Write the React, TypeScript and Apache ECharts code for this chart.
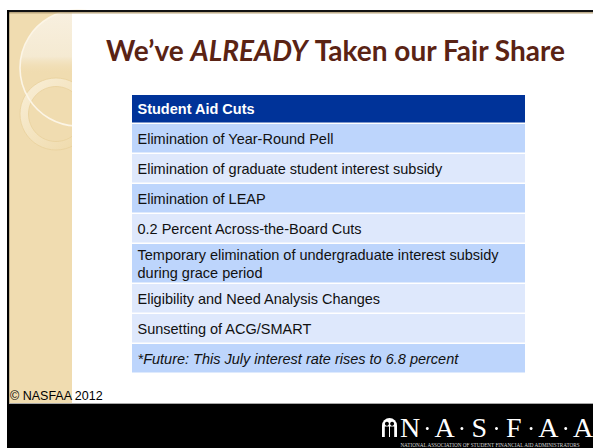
import React, { useEffect, useRef } from "react";
import * as echarts from "echarts";

// ---- content (data) ----
const TITLE_PARTS = ["We\u2019ve ", "ALREADY", " Taken our Fair Share"];
const TABLE_HEADER = "Student Aid Cuts";
const TABLE_ROWS = [
  "Elimination of Year-Round Pell",
  "Elimination of graduate student interest subsidy",
  "Elimination of LEAP",
  "0.2 Percent Across-the-Board Cuts",
  "Temporary elimination of undergraduate interest subsidy\nduring grace period",
  "Eligibility and Need Analysis Changes",
  "Sunsetting of ACG/SMART",
  "*Future: This July interest rate rises to 6.8 percent",
];
const ITALIC_ROWS = [7];
const COPYRIGHT = "\u00A9 NASFAA 2012";
const LOGO_LETTERS = ["N", "A", "S", "F", "A", "A"];
const LOGO_SUBTEXT = "NATIONAL ASSOCIATION OF STUDENT FINANCIAL AID ADMINISTRATORS";

// ---- style ----
const DARK_ROW = "#BDD5FC";
const LIGHT_ROW = "#DEE8FC";
const ROW_FILLS = [DARK_ROW, LIGHT_ROW, DARK_ROW, LIGHT_ROW, DARK_ROW, LIGHT_ROW, LIGHT_ROW, DARK_ROW];
const HEADER_FILL = "#003399";
const TITLE_COLOR = "#5A2314";
const TAN = "#F0DCB0";
const SANS = "'Liberation Sans', Arial, sans-serif";
const TITLE_FONT = "Lato, 'Open Sans', sans-serif";

export default function App() {
  const ref = useRef<HTMLDivElement>(null);

  useEffect(() => {
    if (!ref.current) return;
    const chart = echarts.init(ref.current, undefined, { renderer: "svg" });

    const elements: any[] = [];

    // Left decorative panel
    elements.push({ type: "rect", shape: { x: 9, y: 12, width: 63, height: 392 }, style: { fill: TAN } });
    elements.push({
      type: "circle",
      shape: { cx: 78, cy: 68, r: 58 },
      style: {
        fill: {
          type: "linear", x: 0, y: 0, x2: 0, y2: 1,
          colorStops: [
            { offset: 0, color: "#F8F0E0" },
            { offset: 0.4, color: "#F5EAD2" },
            { offset: 0.55, color: "rgba(240,220,176,0)" },
            { offset: 1, color: "rgba(240,220,176,0)" },
          ],
        },
      },
    });
    elements.push({
      type: "ring",
      shape: { cx: 56, cy: 114, r: 36, r0: 27.5 },
      style: {
        fill: {
          type: "linear", x: 0, y: 0, x2: 1, y2: 1,
          colorStops: [
            { offset: 0, color: "#F9EFD8" },
            { offset: 1, color: "#EED8A6" },
          ],
        },
        stroke: "#E8D19C",
        lineWidth: 0.8,
      },
    });
    elements.push({
      type: "circle",
      shape: { cx: 78, cy: 68, r: 58 },
      style: { fill: "none", stroke: "#FCF5E6", lineWidth: 1.6 },
    });
    // white cover to clip decorations at the panel's right edge
    elements.push({ type: "rect", shape: { x: 72, y: 12, width: 521, height: 391 }, style: { fill: "#FFFFFF" } });

    // Frame borders
    elements.push({ type: "rect", shape: { x: 7, y: 10, width: 586, height: 2.2 }, style: { fill: "#111111" } });
    elements.push({ type: "rect", shape: { x: 9, y: 12.2, width: 584, height: 1.2 }, style: { fill: "#BBA57A" } });
    elements.push({ type: "rect", shape: { x: 7, y: 10, width: 2.2, height: 438 }, style: { fill: "#000000" } });
    elements.push({ type: "rect", shape: { x: 9, y: 403, width: 584, height: 1 }, style: { fill: "#A8A8A8" } });
    elements.push({ type: "rect", shape: { x: 7, y: 404, width: 586, height: 44 }, style: { fill: "#000000" } });

    // Title
    elements.push({
      type: "text",
      x: 336,
      y: 64,
      style: {
        text: `{n|${TITLE_PARTS[0]}}{i|${TITLE_PARTS[1]}}{n|${TITLE_PARTS[2]}}`,
        align: "center",
        verticalAlign: "bottom",
        rich: {
          n: { fontFamily: TITLE_FONT, fontWeight: "bold", fontSize: 28, fill: TITLE_COLOR },
          i: { fontFamily: TITLE_FONT, fontWeight: "bold", fontStyle: "italic", fontSize: 28, fill: TITLE_COLOR },
        },
      },
    });

    // Table
    const tableX = 132;
    const tableW = 393;
    elements.push({ type: "rect", shape: { x: tableX, y: 95, width: tableW, height: 27.5 }, style: { fill: HEADER_FILL } });
    elements.push({
      type: "text",
      x: tableX + 5.5,
      y: 109,
      style: { text: TABLE_HEADER, fill: "#FFFFFF", font: `bold 14.5px ${SANS}`, verticalAlign: "middle" },
    });
    let y = 124;
    TABLE_ROWS.forEach((label, i) => {
      const lines = label.split("\n").length;
      const pitch = lines > 1 ? 40 : 30;
      const h = pitch - 1.5;
      elements.push({ type: "rect", shape: { x: tableX, y, width: tableW, height: h }, style: { fill: ROW_FILLS[i] } });
      const italic = ITALIC_ROWS.includes(i);
      elements.push({
        type: "text",
        x: tableX + 5.5,
        y: y + h / 2 + 0.5,
        style: {
          text: label,
          fill: "#111111",
          font: `${italic ? "italic " : ""}14.5px ${SANS}`,
          verticalAlign: "middle",
          lineHeight: 18,
        },
      });
      y += pitch;
    });

    // Copyright
    elements.push({
      type: "text",
      x: 10,
      y: 396,
      style: { text: COPYRIGHT, fill: "#000000", font: `12.5px ${SANS}`, verticalAlign: "middle" },
    });

    // Logo icon (arch with two figures)
    elements.push({ type: "rect", shape: { x: 382, y: 418, width: 15, height: 19, r: [7.5, 7.5, 0, 0] }, style: { fill: "#FFFFFF" } });
    elements.push({ type: "circle", shape: { cx: 386.9, cy: 423.8, r: 2 }, style: { fill: "#000000" } });
    elements.push({ type: "circle", shape: { cx: 392.1, cy: 423.8, r: 2 }, style: { fill: "#000000" } });
    elements.push({ type: "rect", shape: { x: 384.8, y: 426.5, width: 4.2, height: 10.5 }, style: { fill: "#000000" } });
    elements.push({ type: "rect", shape: { x: 390, y: 426.5, width: 4.2, height: 10.5 }, style: { fill: "#000000" } });

    // Logo letters
    const pitch = 34.6;
    const c0 = 410;
    LOGO_LETTERS.forEach((ch, i) => {
      elements.push({
        type: "text",
        x: c0 + pitch * i,
        y: 441,
        style: {
          text: ch,
          fill: "#FFFFFF",
          font: `28px 'Liberation Serif', 'DejaVu Serif', serif`,
          align: "center",
          verticalAlign: "bottom",
        },
      });
      if (i < LOGO_LETTERS.length - 1) {
        elements.push({
          type: "circle",
          shape: { cx: c0 + pitch * i + pitch / 2, cy: 428.5, r: 1.5 },
          style: { fill: "#FFFFFF" },
        });
      }
    });
    elements.push({
      type: "text",
      x: 490,
      y: 445,
      style: {
        text: LOGO_SUBTEXT,
        fill: "#D8D8D8",
        font: `5.2px 'Liberation Serif', serif`,
        align: "center",
        verticalAlign: "middle",
      },
    });

    chart.setOption({
      animation: false,
      backgroundColor: "#FFFFFF",
      graphic: { elements },
    });

    return () => chart.dispose();
  }, []);

  return (
    <div
      ref={ref}
      style={{ position: "fixed", left: 0, top: 0, width: 593, height: 448 }}
    />
  );
}
